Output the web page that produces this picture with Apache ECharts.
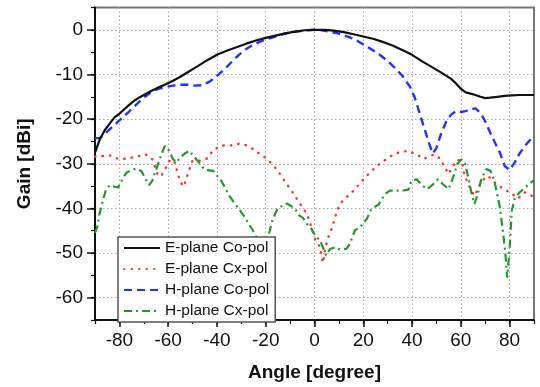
<!DOCTYPE html>
<html>
<head>
<meta charset="utf-8">
<script src="https://cdn.jsdelivr.net/npm/echarts@6/dist/echarts.min.js"></script>
<style>html,body{margin:0;padding:0;background:#fff;}#c{width:540px;height:387px;}</style>
</head>
<body>
<div id="c"></div>
<script>
// ---- Data ----
const seriesNames = ['E-plane Co-pol', 'E-plane Cx-pol', 'H-plane Co-pol', 'H-plane Cx-pol'];
const xTickLabels = [-80, -60, -40, -20, 0, 20, 40, 60, 80];
const yTickLabels = [-60, -50, -40, -30, -20, -10, 0];

const eCoAngle = [-90,-88,-86,-84,-82,-80,-78,-76,-74,-72,-70,-67,-64,-61,-58,-55,-52,-48,-44,-40,-36,-32,-28,-24,-20,-16,-12,-8,-4,0,4,8,12,16,20,24,28,32,36,40,44,48,52,56,58,60,62,64,66,68,70,72,75,78,81,84,87,90];
const eCoGain  = [-27.5,-24.5,-22.5,-21,-19.6,-18.8,-17.8,-16.8,-15.9,-15.2,-14.6,-13.7,-12.9,-12.2,-11.4,-10.5,-9.5,-8.2,-6.8,-5.6,-4.7,-3.9,-3.1,-2.4,-1.8,-1.3,-0.8,-0.4,-0.1,0,0,-0.2,-0.5,-1.0,-1.5,-2.0,-2.7,-3.5,-4.5,-5.6,-7.0,-8.3,-9.6,-11.0,-12.0,-13.2,-14.0,-14.3,-14.6,-15.0,-15.3,-15.2,-15.0,-14.8,-14.7,-14.6,-14.6,-14.6];

const eCxAngle = [-90,-87.4,-84,-80,-76.4,-73,-69.2,-66.5,-64.1,-62.8,-61,-59.1,-57.3,-56,-55,-53.6,-52.5,-51.4,-50.1,-46.9,-43.9,-41.5,-38,-34.4,-30.8,-27.1,-23.7,-20.3,-16.9,-14.4,-12.1,-9.8,-7.3,-5.3,-3,-1.8,0.2,2.3,2.9,3.5,4.7,5.7,7,9.1,10.5,12.5,15.2,17.7,20.7,23.8,27.5,30.9,34.4,38.2,41.9,44.9,49,51.7,53.1,55,56.4,58.5,60.5,61.5,64,65.6,68.4,71.1,74.5,77.7,81.1,83.4,86.1,89.6,90];
const eCxGain  = [-28.4,-28.3,-28.1,-29.0,-28.8,-28.4,-27.9,-29.0,-32.7,-32.7,-30.9,-29.0,-29.7,-32.3,-34.1,-35.1,-33.3,-31.4,-29.4,-29.3,-28.8,-26.9,-25.9,-25.9,-25.5,-26,-27.3,-28.6,-30.3,-32.1,-34,-35.7,-37.8,-39.5,-41.3,-43.3,-46.8,-48.7,-50.9,-52.2,-48.3,-46.4,-44.6,-40.8,-39,-37.8,-36.5,-35,-33.1,-31.4,-29.7,-28.4,-27.5,-27.1,-27.9,-28.9,-27.9,-28.9,-30.5,-32.3,-30.9,-29.1,-29.5,-32.6,-35.7,-37.2,-34,-32.7,-34.5,-35.7,-36.8,-37.8,-36.4,-37.3,-37.4];

const hCoAngle = [-90,-88,-86,-84,-82,-80,-78,-76,-74,-72,-70,-67,-64,-61,-58,-55,-52,-49,-46,-43,-40,-37,-34,-31,-28,-25,-22,-19,-16,-13,-10,-6,-3,0,3,6,9,12,15,18,21,24,27,30,33,36,39,41,43,45,47,48.5,50,52,54,56,58,60,62,64,66,68,70,72,74,76,78,80,82,84,86,88,90];
const hCoGain  = [-24.3,-24.2,-23.3,-22.3,-21.3,-20.3,-19.3,-18.3,-17.2,-16.2,-15.2,-14.0,-13.2,-12.8,-12.5,-12.3,-12.3,-12.5,-12.4,-11.6,-10.3,-8.9,-7.2,-5.6,-4.3,-3.3,-2.6,-2.0,-1.5,-1.0,-0.6,-0.3,-0.1,0,-0.1,-0.4,-0.7,-1.2,-1.8,-2.6,-3.6,-4.6,-5.7,-7.0,-8.5,-10.3,-12.6,-15,-18.5,-22,-25.5,-27.7,-26.5,-23.1,-20.6,-19.0,-18.2,-18.4,-18.2,-17.8,-17.6,-18.6,-20.5,-23,-25.3,-27.5,-30.5,-31.4,-29.8,-27.8,-26.2,-24.9,-23.8];

const hCxAngle = [-90,-89.1,-88.3,-87,-85.6,-84,-82.3,-80.5,-78.8,-77.1,-75.1,-73,-71,-69.2,-67.8,-66.5,-65.1,-63.5,-61.4,-59.6,-58,-56.6,-55,-53.2,-51.2,-49.6,-47.7,-44.9,-41.5,-40.1,-38.5,-36.7,-34.9,-32.6,-30.5,-28.5,-26.7,-25.3,-23.5,-21.5,-20,-18.5,-17.1,-15.2,-13.5,-11.4,-9.8,-8,-6.2,-4.6,-3.9,-1.2,0.2,2.3,3.9,4.7,6.4,8.4,10.5,13.2,14.5,16.6,18.7,21.4,23.4,26.2,28.9,30.9,36.4,38.5,39.8,41.9,44.5,46.2,48.6,50.6,52.7,55,56.8,58.5,60.2,61.8,63.2,64.6,65.6,66.7,68.4,70.4,72.2,73.8,75.9,77.3,78.2,79,80,80.9,82,84.1,86.4,89.6,90];
const hCxGain  = [-45.5,-44.2,-41.6,-38.7,-36,-34.8,-35.1,-35.3,-33.5,-32,-31.4,-31.1,-31.6,-33.5,-34.8,-33.8,-31.6,-29,-26,-27.1,-29,-29.7,-28.6,-27.7,-27.1,-28.3,-29.5,-31.4,-31.6,-32.6,-33.6,-35.3,-37.2,-39,-40.5,-42,-43.7,-44.9,-47,-48,-47.5,-45.3,-42.4,-40.1,-39.5,-38.9,-39.4,-40.1,-41.6,-42.2,-43,-44.6,-46.1,-47.2,-49.4,-50.5,-49.1,-48.7,-49.2,-49,-47.9,-44.9,-44.2,-42.4,-40.1,-39.2,-36.8,-36,-36,-35.8,-33.8,-33.5,-35,-35.7,-34.6,-33.5,-34.6,-35.7,-33.1,-30.1,-29,-30.1,-33.5,-37.2,-39,-37.2,-33.5,-31.2,-31.6,-34,-39.4,-45.3,-49.8,-55.5,-49.1,-40.5,-37.9,-36.4,-35.3,-33.8,-33.7];

// ---- Chart ----
const FONT = 'Arial, "Liberation Sans", sans-serif';
const pairs = (a, v) => a.map((x, i) => [x, v[i]]);
const gridLine = { show: true, lineStyle: { color: '#aaaaaa', width: 1, type: [1.5, 2.5] } };

const chart = echarts.init(document.getElementById('c'), null, { renderer: 'canvas' });
chart.setOption({
  animation: false,
  backgroundColor: '#fff',
  grid: { left: 95, right: 6, top: 7.5, bottom: 65, show: true, borderColor: '#777', borderWidth: 2, backgroundColor: 'transparent' },
  xAxis: [
    {
      type: 'value', min: -90, max: 90, interval: 10, position: 'bottom',
      name: 'Angle [degree]', nameLocation: 'middle', nameGap: 43,
      nameTextStyle: { fontFamily: FONT, fontSize: 19, fontWeight: 'bold', color: '#111' },
      axisLine: { show: true, onZero: false, lineStyle: { color: '#111', width: 2 } },
      axisTick: { show: true, inside: false, length: 7, customValues: xTickLabels, lineStyle: { color: '#111', width: 1.5 } },
      axisLabel: { customValues: xTickLabels, margin: 11, fontFamily: FONT, fontSize: 19, color: '#111' },
      splitLine: gridLine
    },
    {
      type: 'value', min: -90, max: 90, interval: 10, position: 'bottom',
      axisLine: { show: false, onZero: false },
      axisTick: { show: true, length: 4, lineStyle: { color: '#111', width: 1.2 } },
      axisLabel: { show: false }, splitLine: { show: false }
    }
  ],
  yAxis: [
    {
      type: 'value', min: -65, max: 5, interval: 5, position: 'left',
      name: 'Gain [dBi]', nameLocation: 'middle', nameGap: 61, nameRotate: 90,
      nameTextStyle: { fontFamily: FONT, fontSize: 19, fontWeight: 'bold', color: '#111' },
      axisLine: { show: true, onZero: false, lineStyle: { color: '#111', width: 2 } },
      axisTick: { show: true, length: 8, customValues: yTickLabels, lineStyle: { color: '#111', width: 1.5 } },
      axisLabel: { customValues: yTickLabels, margin: 12, fontFamily: FONT, fontSize: 19, color: '#111' },
      splitLine: gridLine
    },
    {
      type: 'value', min: -65, max: 5, interval: 5, position: 'left',
      axisLine: { show: false, onZero: false },
      axisTick: { show: true, length: 4, lineStyle: { color: '#111', width: 1.2 } },
      axisLabel: { show: false }, splitLine: { show: false }
    }
  ],
  legend: {
    left: 118, top: 237, orient: 'vertical',
    data: seriesNames,
    itemWidth: 36, itemHeight: 14, itemGap: 5,
    padding: [3, 6, 3, 5],
    backgroundColor: '#fff', borderColor: '#555', borderWidth: 1.5, borderRadius: 0,
    itemStyle: { color: 'rgba(0,0,0,0)', borderColor: 'rgba(0,0,0,0)', borderWidth: 0, opacity: 0 },
    textStyle: { fontFamily: FONT, fontSize: 15.5, color: '#111' }
  },
  series: [
    { name: seriesNames[0], type: 'line', data: pairs(eCoAngle, eCoGain), showSymbol: false, symbol: 'none', z: 5,
      lineStyle: { color: '#111', width: 2.2, type: 'solid' }, itemStyle: { color: '#111' } },
    { name: seriesNames[1], type: 'line', data: pairs(eCxAngle, eCxGain), showSymbol: false, symbol: 'none', z: 3,
      lineStyle: { color: '#ff3333', width: 2.4, type: [0.5, 7], cap: 'round' }, itemStyle: { color: '#ff3333' } },
    { name: seriesNames[2], type: 'line', data: pairs(hCoAngle, hCoGain), showSymbol: false, symbol: 'none', z: 4,
      lineStyle: { color: '#2233ff', width: 2.4, type: [8, 5] }, itemStyle: { color: '#2233ff' } },
    { name: seriesNames[3], type: 'line', data: pairs(hCxAngle, hCxGain), showSymbol: false, symbol: 'none', z: 3,
      lineStyle: { color: '#22992a', width: 2.2, type: [8, 4, 2, 4] }, itemStyle: { color: '#22992a' } }
  ]
});
</script>
</body>
</html>
